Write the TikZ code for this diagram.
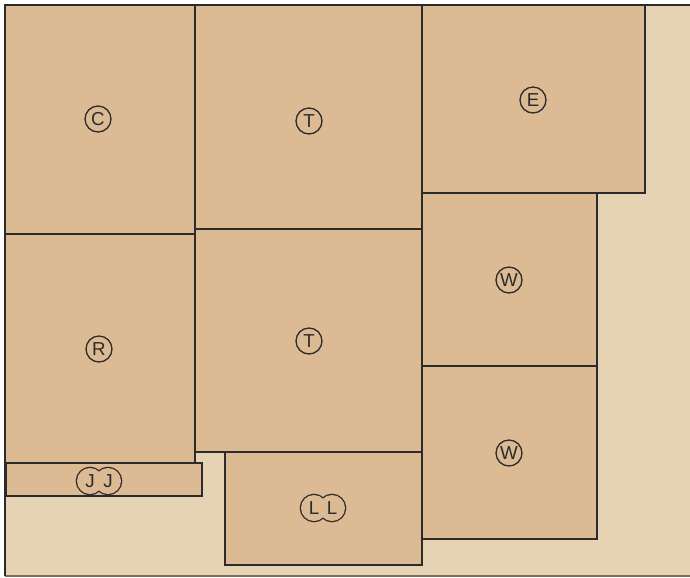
\documentclass[tikz,border=0pt]{standalone}
\usepackage{fontspec}
\newfontfamily\bedfont{Liberation Sans}
\definecolor{plotsand}{HTML}{E5D3B3}
\definecolor{plotbed}{HTML}{DBBA94}
\definecolor{plotink}{HTML}{2B2B2B}
\definecolor{plotedge}{HTML}{7A7062}

\tikzset{
  bed/.style={fill=plotbed, draw=plotink, line width=0.9pt},
  tag/.style={circle, draw=plotink, line width=1.1pt, minimum size=0.78cm, inner sep=0pt,
    font=\bedfont\fontsize{16}{16}\selectfont, text=plotink},
  letter/.style={inner sep=0pt, font=\bedfont\fontsize{16}{16}\selectfont, text=plotink}
}

% two rings joined, one letter in each
\newcommand{\pairtag}[4]{%
  \draw[plotink, line width=2.2pt] (#2-9,#3) circle[radius=0.39cm] (#2+9,#3) circle[radius=0.39cm];
  \fill[plotbed] (#2-9,#3) circle[radius=0.39cm] (#2+9,#3) circle[radius=0.39cm];
  \node[letter] (#1a) at (#2-9,#3) {#4};
  \node[letter] (#1b) at (#2+9,#3) {#4};
}

\begin{document}
\begin{tikzpicture}[x=0.03cm,y=-0.03cm]
  \useasboundingbox (0,0) rectangle (690,577);
  \fill[plotsand] (5,5) rectangle (690,576);
  \draw[plotedge, line width=1pt] (5,576) -- (690,576);
  \draw[plotink, line width=1.2pt] (690,5) -- (5,5) -- (5,576);

  % beds
  \draw[bed] (5,5) rectangle (195,234);
  \draw[bed] (5,234) rectangle (195,463);
  \draw[bed] (6,463) rectangle (202,496);
  \draw[bed] (195,5) rectangle (422,229);
  \draw[bed] (195,229) rectangle (422,452);
  \draw[bed] (225,452) rectangle (422,565);
  \draw[bed] (422,5) rectangle (645,193);
  \draw[bed] (422,193) rectangle (597,366);
  \draw[bed] (422,366) rectangle (597,539);
  \draw[plotink, line width=1.2pt] (5,5) -- (645,5);

  % labels
  \node[tag] (corn) at (98,119) {C};
  \node[tag] (tomtop) at (309,121) {T};
  \node[tag] (egg) at (533,100) {E};
  \node[tag] (rad) at (99,349) {R};
  \node[tag] (tombot) at (309,341) {T};
  \node[tag] (wtop) at (509,280) {W};
  \node[tag] (wbot) at (509,453) {W};
  \pairtag{jj}{99}{481}{J}
  \pairtag{ll}{323}{508}{L}
\end{tikzpicture}
\end{document}
